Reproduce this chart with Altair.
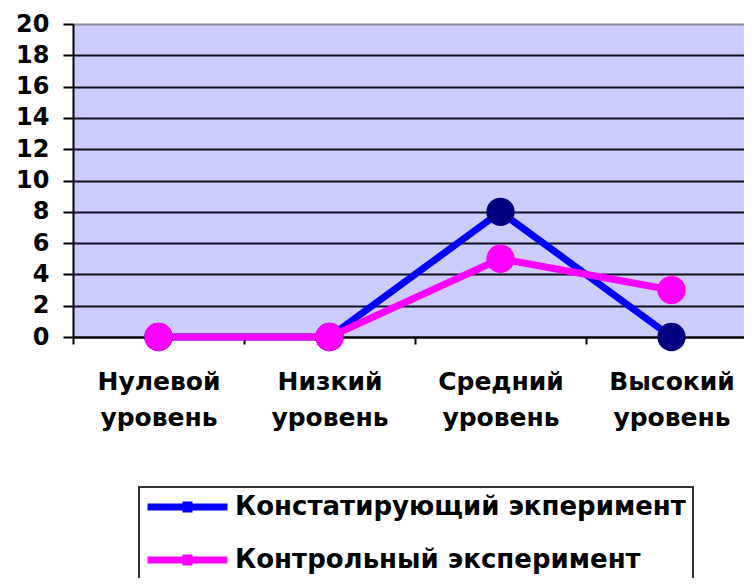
import altair as alt
import pandas as pd

categories = ["Нулевой уровень", "Низкий уровень", "Средний уровень", "Высокий уровень"]
series_names = ["Констатирующий экперимент", "Контрольный эксперимент"]
values_konst = [0, 0, 8, 0]
values_kontr = [0, 0, 5, 3]
y_ticks = [0, 2, 4, 6, 8, 10, 12, 14, 16, 18, 20]
line_colors = ["#0000FF", "#FF00FF"]
marker_colors = ["#000080", "#FF00FF"]

rows = []
for s, vals in zip(series_names, [values_konst, values_kontr]):
    for i, (c, v) in enumerate(zip(categories, vals)):
        rows.append({"series": s, "category": c, "value": v, "idx": i})
df = pd.DataFrame(rows)

FONT = "DejaVu Sans"

x = alt.X(
    "category:N",
    sort=categories,
    bandPosition=0.5,
    scale=alt.Scale(type="band", domain=categories, range=[0, 684], paddingInner=0, paddingOuter=0),
    axis=alt.Axis(
        title=None, labelAngle=0, labelExpr="split(datum.label, ' ')",
        labelFont=FONT, labelFontSize=25, labelFontWeight="bold", labelColor="black",
        labelLineHeight=36, labelPadding=25, tickBand="extent", tickSize=7,
        tickWidth=2, tickColor="black", domainColor="black", domainWidth=2,
        grid=False,
    ),
)
y = alt.Y(
    "value:Q",
    scale=alt.Scale(domain=[0, 20], nice=False),
    axis=alt.Axis(
        title=None, values=y_ticks, labelFont=FONT, labelFontSize=24,
        labelFontWeight="bold", labelColor="black", labelPadding=14,
        tickSize=10, tickWidth=2, tickColor="black", domainColor="black",
        domainWidth=2, grid=True, gridWidth=2,
        gridColor=alt.condition("datum.value == 20", alt.value("#8a8a9a"), alt.value("#101020")),
    ),
)

lines = alt.Chart(df).mark_line(strokeWidth=7).encode(
    x=x, y=y,
    color=alt.Color(
        "series:N",
        scale=alt.Scale(domain=series_names, range=line_colors),
        legend=alt.Legend(
            title=None, orient="none", legendX=66, legendY=463,
            symbolType="M-4.6,0H27.4M10.8,-2.2V2.2M12,-2.2V2.2",
            symbolSize=25, symbolStrokeWidth=7,
            labelFont=FONT, labelFontSize=26, labelFontWeight="bold",
            labelColor="black", labelOffset=63, labelLimit=700,
            strokeColor="#333333", fillColor="white", padding=7, rowPadding=13,
        ),
    ),
    order="idx:Q",
)

points = alt.Chart(df).mark_circle(size=800, opacity=1).encode(
    x=x, y=y,
    fill=alt.Fill("series:N", scale=alt.Scale(domain=series_names, range=marker_colors), legend=None),
)

chart = (
    alt.layer(lines, points)
    .properties(
        width=671, height=313, autosize="none",
        padding={"left": 65, "top": 16, "right": 0, "bottom": 241},
        view=alt.ViewBackground(fill="#CCCCFF", strokeWidth=0),
    )
    .configure(background="white")
    .configure_legend(strokeWidth=2)
)

chart.save("out.html", embed_options={"renderer": "svg", "actions": False})
